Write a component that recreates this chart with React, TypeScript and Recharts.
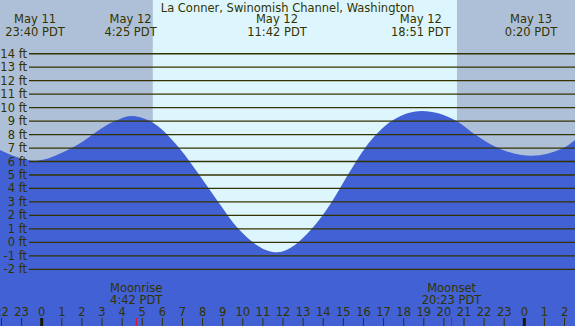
import { ComposedChart, Area, XAxis, YAxis, ReferenceArea, ReferenceLine } from "recharts"

const W = 575
const H = 326
const INK = "#333300"
const NIGHT = "#aec0d8"
const DAY = "#ddf6fe"
const WATER = "#4161d5"
const FONT = "'DejaVu Sans', sans-serif"
const FS = 11.5

// hours counted from midnight of May 12 (PDT)
const hourDomain = [-2.074, 26.52]
const ftDomain = [-6.21, 17.99]

const tideHours = [
  -2.074, -0.333, 1.49, 3.64, 4.417, 5.39, 6.84, 7.84, 8.78, 9.78,
  11.72, 13.43, 14.42, 15.22, 16.08, 17.4, 18.9, 20.63, 21.55, 22.7,
  24.37, 25.94, 26.52,
]
const tideFeet = [
  6.85, 6.06, 7.0, 9.0, 9.38, 9.0, 7.0, 5.0, 3.0, 1.0,
  -0.74, 1.0, 3.0, 5.0, 7.0, 9.0, 9.75, 9.0, 8.0, 7.0,
  6.43, 7.0, 7.6,
]

const hourTicks = [-2, -1, 0, 1, 2, 3, 4, 5, 6, 7, 8, 9, 10, 11, 12, 13, 14, 15, 16, 17, 18, 19, 20, 21, 22, 23, 24, 25, 26]
const ftTicks = [-2, -1, 0, 1, 2, 3, 4, 5, 6, 7, 8, 9, 10, 11, 12, 13, 14]

const eventHours = [-0.333, 4.417, 11.7, 18.85, 24.333]
const eventDates = ["May 11", "May 12", "May 12", "May 12", "May 13"]
const eventTimes = ["23:40 PDT", "4:25 PDT", "11:42 PDT", "18:51 PDT", "0:20 PDT"]

const moonHours = [4.7, 20.383]
const moonNames = ["Moonrise", "Moonset"]
const moonTimes = ["4:42 PDT", "20:23 PDT"]

const sunrise = 5.53
const sunset = 20.65

const data = tideHours.map((hour, i) => ({ hour, ft: tideFeet[i] }))

function HourTick(props: any) {
  const { x, payload } = props
  const h = payload.value as number
  const midnight = h % 24 === 0
  return (
    <g>
      <text x={x} y={316} textAnchor="middle" fill={INK} fontSize={FS} fontFamily={FONT}>
        {((h % 24) + 24) % 24}
      </text>
      <line
        x1={x}
        x2={x}
        y1={318}
        y2={H}
        stroke={midnight ? "#1a1a00" : INK}
        strokeWidth={midnight ? 3 : 1}
      />
    </g>
  )
}

function FeetTick(props: any) {
  const { y, payload } = props
  return (
    <g>
      <line x1={29} x2={W} y1={y} y2={y} stroke={INK} strokeWidth={1.3} />
      <text x={27} y={y + 4} textAnchor="end" fill={INK} fontSize={FS} fontFamily={FONT}>
        {payload.value} ft
      </text>
    </g>
  )
}

function EventLabel(props: any) {
  const x = props.viewBox?.x ?? 0
  return (
    <g>
      <text x={x} y={23.3} textAnchor="middle" fill={INK} fontSize={FS} fontFamily={FONT}>
        {props.top}
      </text>
      <text x={x} y={36} textAnchor="middle" fill={INK} fontSize={FS} fontFamily={FONT}>
        {props.bottom}
      </text>
    </g>
  )
}

function MoonLabel(props: any) {
  const x = props.viewBox?.x ?? 0
  return (
    <g>
      <text x={x} y={291.5} textAnchor="middle" fill={INK} fontSize={FS} fontFamily={FONT}>
        {props.top}
      </text>
      <text x={x} y={303.7} textAnchor="middle" fill={INK} fontSize={FS} fontFamily={FONT}>
        {props.bottom}
      </text>
      <line x1={x} x2={x} y1={318} y2={H} stroke="#ff0000" strokeWidth={1} />
    </g>
  )
}

export default function App() {
  return (
    <div style={{ position: "absolute", left: 0, top: 0, width: W, height: H }}>
      <ComposedChart width={W} height={H} data={data} margin={{ top: 0, right: 0, bottom: 0, left: 0 }}>
        <XAxis
          type="number"
          dataKey="hour"
          domain={hourDomain}
          allowDataOverflow
          ticks={hourTicks}
          interval={0}
          mirror
          axisLine={false}
          tickLine={false}
          tick={<HourTick />}
        />
        <YAxis
          type="number"
          domain={ftDomain}
          allowDataOverflow
          ticks={ftTicks}
          interval={0}
          mirror
          axisLine={false}
          tickLine={false}
          tick={<FeetTick />}
        />
        <ReferenceArea x1={hourDomain[0]} x2={sunrise} fill={NIGHT} fillOpacity={1} stroke="none" />
        <ReferenceArea x1={sunrise} x2={sunset} fill={DAY} fillOpacity={1} stroke="none" />
        <ReferenceArea x1={sunset} x2={hourDomain[1]} fill={NIGHT} fillOpacity={1} stroke="none" />
        <Area
          type="monotone"
          dataKey="ft"
          baseValue="dataMin"
          stroke="none"
          fill={WATER}
          fillOpacity={1}
          isAnimationActive={false}
          dot={false}
          activeDot={false}
        />
        {eventHours.map((h, i) => (
          <ReferenceLine
            key={"ev" + i}
            x={h}
            stroke="none"
            label={<EventLabel top={eventDates[i]} bottom={eventTimes[i]} />}
          />
        ))}
        {moonHours.map((h, i) => (
          <ReferenceLine
            key={"moon" + i}
            x={h}
            stroke="none"
            label={<MoonLabel top={moonNames[i]} bottom={moonTimes[i]} />}
          />
        ))}
      </ComposedChart>
      <div
        style={{
          position: "absolute",
          left: 0,
          top: 0.5,
          width: W,
          textAlign: "center",
          fontFamily: FONT,
          fontSize: FS,
          lineHeight: "14px",
          color: INK,
          pointerEvents: "none",
        }}
      >
        La Conner, Swinomish Channel, Washington
      </div>
    </div>
  )
}
